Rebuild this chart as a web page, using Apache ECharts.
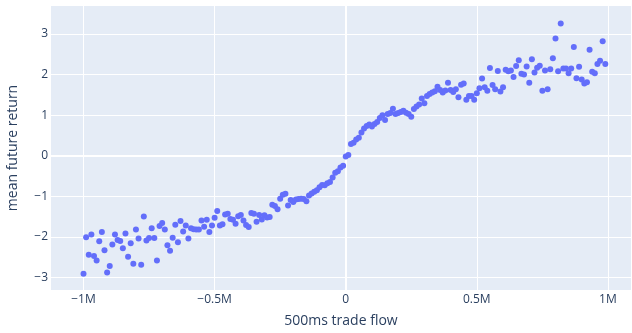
<!DOCTYPE html>
<html>
<head>
<meta charset="utf-8">
<script src="https://cdn.jsdelivr.net/npm/echarts@6/dist/echarts.min.js"></script>
<style>
  html, body { margin: 0; padding: 0; background: #ffffff; }
  #chart { width: 632px; height: 333px; }
</style>
</head>
<body>
<div id="chart"></div>
<script>
// Trade-flow bins (thousands of units, 500ms window)
const flowK = [
  -1000, -990, -980, -970, -960, -950, -940, -930, -920, -910,
  -900, -890, -880, -870, -860, -850, -840, -830, -820, -810,
  -800, -790, -780, -770, -760, -750, -740, -730, -720, -710,
  -700, -690, -680, -670, -660, -650, -640, -630, -620, -610,
  -600, -590, -580, -570, -560, -550, -540, -530, -520, -510,
  -500, -490, -480, -470, -460, -450, -440, -430, -420, -410,
  -400, -390, -380, -370, -360, -350, -340, -330, -320, -310,
  -300, -290, -280, -270, -260, -250, -240, -230, -220, -210,
  -200, -190, -180, -170, -160, -150, -140, -130, -120, -110,
  -100, -90, -80, -70, -60, -50, -40, -30, -20, -10,
  0, 10, 20, 30, 40, 50, 60, 70, 80, 90,
  100, 110, 120, 130, 140, 150, 160, 170, 180, 190,
  200, 210, 220, 230, 240, 250, 260, 270, 280, 290,
  300, 310, 320, 330, 340, 350, 360, 370, 380, 390,
  400, 410, 420, 430, 440, 450, 460, 470, 480, 490,
  500, 510, 520, 530, 540, 550, 560, 570, 580, 590,
  600, 610, 620, 630, 640, 650, 660, 670, 680, 690,
  700, 710, 720, 730, 740, 750, 760, 770, 780, 790,
  800, 810, 820, 830, 840, 850, 860, 870, 880, 890,
  900, 910, 920, 930, 940, 950, 960, 970, 980, 990
];

// Mean future return per bin
const meanReturn = [
  -2.91, -2.01, -2.44, -1.94, -2.47, -2.58, -2.11, -1.88, -2.33, -2.88,
  -2.72, -2.19, -1.94, -2.08, -2.10, -2.28, -1.92, -2.49, -2.16, -2.66,
  -1.82, -2.04, -2.69, -1.50, -2.09, -2.03, -1.79, -2.03, -2.58, -1.73,
  -1.66, -1.82, -2.21, -2.34, -2.02, -1.70, -2.13, -1.61, -1.87, -1.72,
  -2.04, -1.79, -1.81, -1.82, -1.82, -1.60, -1.75, -1.58, -1.88, -1.72,
  -1.53, -1.36, -1.72, -1.69, -1.45, -1.43, -1.56, -1.58, -1.68, -1.49,
  -1.46, -1.60, -1.71, -1.76, -1.41, -1.43, -1.63, -1.46, -1.57, -1.47,
  -1.52, -1.51, -1.21, -1.24, -1.32, -1.06, -0.96, -0.94, -1.23, -1.09,
  -1.14, -1.08, -1.07, -1.06, -1.07, -1.12, -0.98, -0.93, -0.89, -0.85,
  -0.78, -0.72, -0.73, -0.68, -0.65, -0.54, -0.42, -0.38, -0.29, -0.25,
  -0.02, 0.02, 0.29, 0.32, 0.40, 0.44, 0.57, 0.67, 0.73, 0.77,
  0.72, 0.78, 0.83, 0.93, 1.00, 0.88, 1.03, 1.05, 1.16, 1.03,
  1.05, 1.08, 1.11, 1.06, 1.03, 0.96, 1.15, 1.21, 1.26, 1.41,
  1.29, 1.47, 1.52, 1.56, 1.59, 1.70, 1.62, 1.56, 1.61, 1.80,
  1.62, 1.57, 1.64, 1.44, 1.75, 1.78, 1.38, 1.47, 1.47, 1.38,
  1.54, 1.66, 1.90, 1.69, 1.60, 2.16, 1.74, 1.64, 2.09, 1.58,
  1.69, 2.12, 2.08, 2.10, 1.94, 2.21, 2.35, 2.02, 2.00, 2.20,
  1.80, 2.38, 2.05, 2.17, 2.22, 1.60, 2.10, 1.64, 2.13, 2.40,
  2.89, 2.08, 3.26, 2.15, 2.15, 2.03, 2.15, 2.68, 1.91, 2.19,
  1.88, 1.78, 1.81, 2.61, 2.07, 2.03, 2.26, 2.34, 2.82, 2.26
];

// Axis tick positions
const xTicks = [-1000000, -500000, 0, 500000, 1000000];
const yTicks = [-3, -2, -1, 0, 1, 2, 3];

const points = flowK.map((k, i) => [k * 1000, meanReturn[i]]);

function fmtFlow(v) {
  if (v === 0) return '0';
  const s = (Math.abs(v) / 1e6) + 'M';
  return v < 0 ? '\u2212' + s : s;
}
function fmtRet(v) {
  return v < 0 ? '\u2212' + Math.abs(v) : String(v);
}

const textColor = '#2a3f5f';
const fontFamily = '"Open Sans", Verdana, Arial, sans-serif';

const chart = echarts.init(document.getElementById('chart'), null, { renderer: 'canvas' });
chart.setOption({
  animation: false,
  backgroundColor: '#ffffff',
  grid: {
    left: 51, right: 1, top: 6, bottom: 43,
    outerBoundsMode: 'none',
    containLabel: false,
    show: true, backgroundColor: '#E5ECF6', borderWidth: 0
  },
  xAxis: {
    type: 'value',
    min: -1124000, max: 1088000,
    name: '500ms trade flow',
    nameLocation: 'middle',
    nameGap: 24,
    nameTextStyle: { color: textColor, fontSize: 14, fontFamily: fontFamily },
    axisLine: { show: true, onZero: true, lineStyle: { color: '#ffffff', width: 2 } },
    axisTick: { show: false, customValues: xTicks },
    axisLabel: {
      customValues: xTicks, formatter: fmtFlow, margin: 4,
      color: textColor, fontSize: 12, fontFamily: fontFamily
    },
    splitLine: { show: true, lineStyle: { color: '#ffffff', width: 1 } }
  },
  yAxis: {
    type: 'value',
    min: -3.31, max: 3.69,
    name: 'mean future return',
    nameLocation: 'middle',
    nameGap: 31,
    nameTextStyle: { color: textColor, fontSize: 14, fontFamily: fontFamily },
    axisLine: { show: true, onZero: true, lineStyle: { color: '#ffffff', width: 2 } },
    axisTick: { show: false, customValues: yTicks },
    axisLabel: {
      customValues: yTicks, formatter: fmtRet, margin: 3,
      color: textColor, fontSize: 12, fontFamily: fontFamily
    },
    splitLine: { show: true, lineStyle: { color: '#ffffff', width: 1 } }
  },
  series: [{
    type: 'scatter',
    data: points,
    symbol: 'circle',
    symbolSize: 6,
    itemStyle: { color: '#636efa', opacity: 1 }
  }]
});
</script>
</body>
</html>
